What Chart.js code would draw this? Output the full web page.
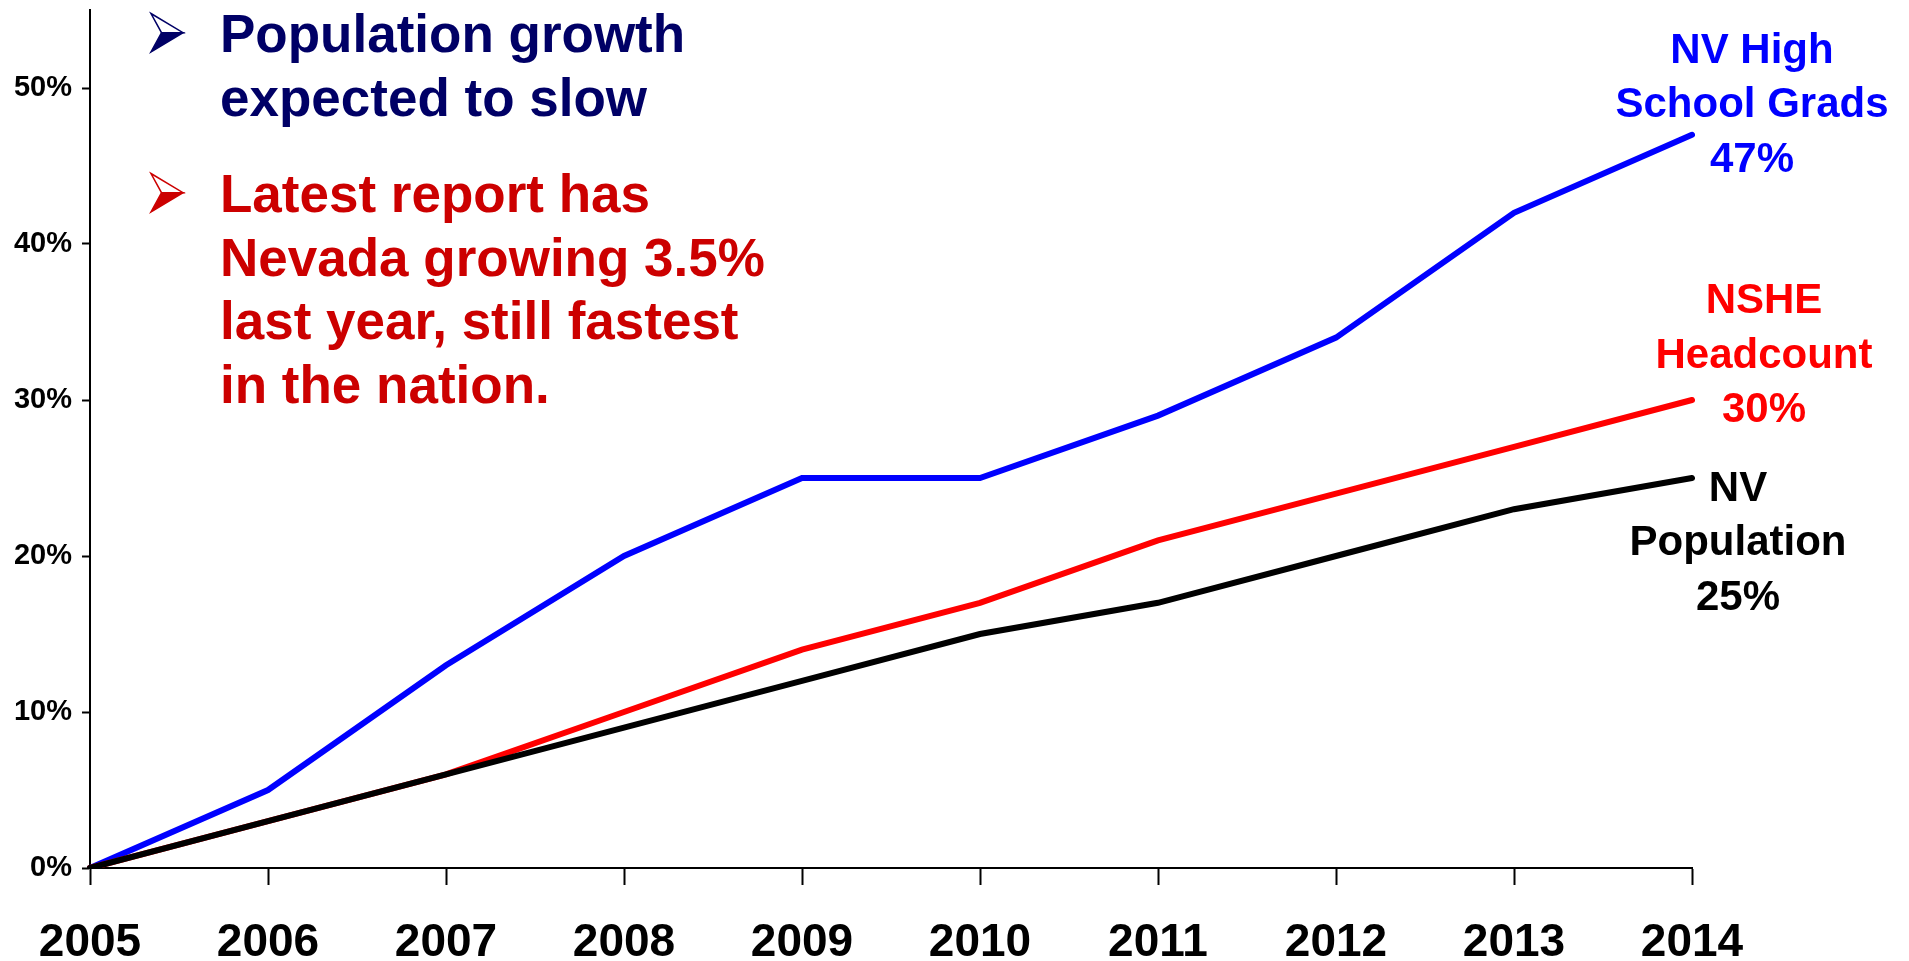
<!DOCTYPE html>
<html>
<head>
<meta charset="utf-8">
<script src="https://cdn.jsdelivr.net/npm/chart.js@4.4.1/dist/chart.umd.min.js"></script>
<style>
  html, body { margin: 0; padding: 0; background: #fff; }
  canvas { display: block; }
</style>
</head>
<body>
<canvas id="growthChart" width="1909" height="961"></canvas>
<script>
// Cumulative growth since 2005, in percent
const years = ['2005', '2006', '2007', '2008', '2009', '2010', '2011', '2012', '2013', '2014'];
const hsGrads = [0, 5, 13, 20, 25, 25, 29, 34, 42, 47];
const nsheHeadcount = [0, 3, 6, 10, 14, 17, 21, 24, 27, 30];
const nvPopulation = [0, 3, 6, 9, 12, 15, 17, 20, 23, 25];

const FONT = '"Liberation Sans", Arial, Helvetica, sans-serif';
const NAVY = '#000066';
const DARK_RED = '#cc0000';

// end-of-line labels, offsets are relative to the last point of each series
const endLabels = [
    { lines: ['NV High', 'School Grads', '47%'], color: '#0000ff', data: hsGrads, dx: 60, dy: -72 },
    { lines: ['NSHE', 'Headcount', '30%'], color: '#ff0000', data: nsheHeadcount, dx: 72, dy: -87 },
    { lines: ['NV', 'Population', '25%'], color: '#000000', data: nvPopulation, dx: 46, dy: 22.5 }
];

// bullet text block in the upper left
const bullets = [
    { color: NAVY, lines: ['Population growth', 'expected to slow'], top: 52 },
    { color: DARK_RED, lines: ['Latest report has', 'Nevada growing 3.5%', 'last year, still fastest', 'in the nation.'], top: 212 }
];

function drawArrow(ctx, x, baseline, color) {
    const top = baseline - 38.5;
    const mid = baseline - 19.3;
    ctx.save();
    ctx.lineJoin = 'miter';
    ctx.lineWidth = 1.5;
    ctx.strokeStyle = color;
    ctx.fillStyle = '#fff';
    ctx.beginPath();
    ctx.moveTo(x, top);
    ctx.lineTo(x + 32, mid);
    ctx.lineTo(x + 10.5, mid);
    ctx.closePath();
    ctx.fill();
    ctx.stroke();
    ctx.fillStyle = color;
    ctx.beginPath();
    ctx.moveTo(x + 10.5, mid);
    ctx.lineTo(x + 32, mid);
    ctx.lineTo(x, baseline);
    ctx.closePath();
    ctx.fill();
    ctx.stroke();
    ctx.restore();
}

const annotations = {
    id: 'annotations',
    afterDraw(chart) {
        const ctx = chart.ctx;
        const xs = chart.scales.x;
        const ys = chart.scales.y;
        ctx.save();
        ctx.textBaseline = 'alphabetic';

        ctx.font = 'bold 42px ' + FONT;
        ctx.textAlign = 'center';
        endLabels.forEach(l => {
            const last = l.data.length - 1;
            const cx = xs.getPixelForValue(last) + l.dx;
            const y0 = ys.getPixelForValue(l.data[last]) + l.dy;
            ctx.fillStyle = l.color;
            l.lines.forEach((t, i) => ctx.fillText(t, cx, y0 + i * 54.5));
        });

        ctx.font = 'bold 53px ' + FONT;
        ctx.textAlign = 'left';
        bullets.forEach(b => {
            drawArrow(ctx, 151, b.top, b.color);
            ctx.fillStyle = b.color;
            b.lines.forEach((t, i) => ctx.fillText(t, 220, b.top + i * 63.5));
        });
        ctx.restore();
    }
};

const ctx = document.getElementById('growthChart').getContext('2d');

const lineStyle = {
    borderWidth: 6,
    pointRadius: 0,
    tension: 0,
    fill: false,
    borderCapStyle: 'round'
};

const growthChart = new Chart(ctx, {
    type: 'line',
    data: {
        labels: years,
        datasets: [
            { label: 'NV Population', data: nvPopulation, borderColor: '#000000', ...lineStyle },
            { label: 'NSHE Headcount', data: nsheHeadcount, borderColor: '#ff0000', ...lineStyle },
            { label: 'NV High School Grads', data: hsGrads, borderColor: '#0000ff', ...lineStyle }
        ]
    },
    options: {
        responsive: false,
        animation: false,
        layout: {
            padding: { top: 10, right: 217, left: 0, bottom: 0 }
        },
        plugins: {
            legend: { display: false },
            tooltip: { enabled: false }
        },
        scales: {
            x: {
                offset: false,
                afterFit: s => { s.height = 93; },
                border: { display: true, color: '#000', width: 2 },
                grid: {
                    drawOnChartArea: false,
                    drawTicks: true,
                    tickLength: 17,
                    tickColor: '#000',
                    tickWidth: 2
                },
                ticks: {
                    color: '#000',
                    padding: 31,
                    maxRotation: 0,
                    font: { family: FONT, size: 46, weight: 'bold' }
                }
            },
            y: {
                min: 0,
                max: 55,
                afterFit: s => { s.width = 90; s.paddingTop = 0; s.paddingBottom = 0; },
                border: { display: true, color: '#000', width: 2 },
                grid: {
                    drawOnChartArea: false,
                    drawTicks: true,
                    tickLength: 8,
                    tickColor: '#000',
                    tickWidth: 2
                },
                ticks: {
                    stepSize: 10,
                    includeBounds: false,
                    color: '#000',
                    padding: 10,
                    font: { family: FONT, size: 29, weight: 'bold' },
                    callback: v => (v % 10 === 0 ? v + '%' : '')
                }
            }
        }
    },
    plugins: [annotations]
});
</script>
</body>
</html>
